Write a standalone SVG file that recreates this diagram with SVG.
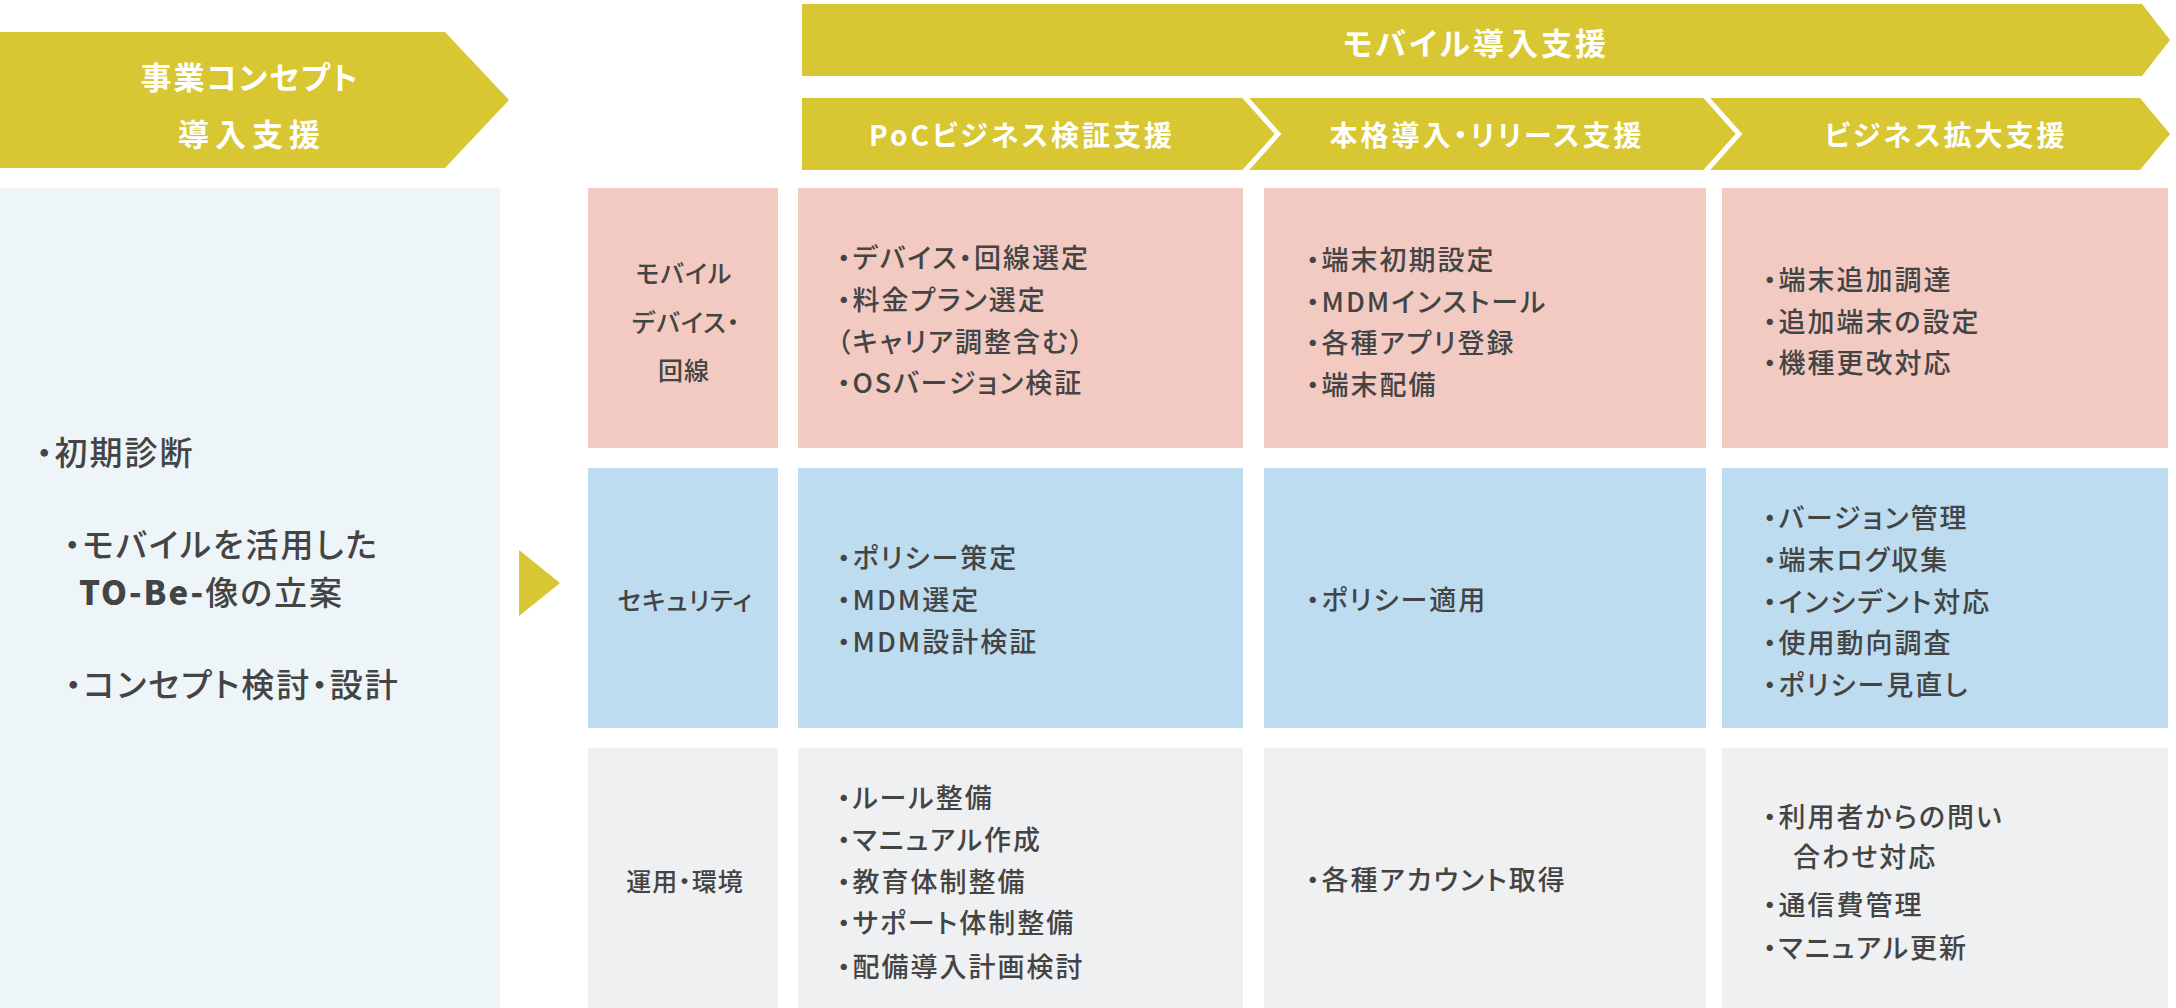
<svg xmlns="http://www.w3.org/2000/svg" width="2176" height="1008" viewBox="0 0 2176 1008">
<style>
text{font-family:"Noto Sans CJK JP","Noto Sans",sans-serif;font-feature-settings:"palt" 1;}
.ban{fill:#D8C732;}
.wt{fill:#ffffff;font-weight:700;}
.t{fill:#444444;font-size:27px;font-weight:500;letter-spacing:2px;}
.lab{fill:#444444;font-size:25px;font-weight:500;text-anchor:middle;letter-spacing:1px;}
.lt{fill:#444444;font-size:33px;font-weight:500;letter-spacing:2px;}
.pink{fill:#F2CAC2;}
.blue{fill:#BEDCEF;}
.gray{fill:#EFF0F2;}
.sep{fill:none;stroke:#ffffff;stroke-width:5;}
</style>
<rect width="2176" height="1008" fill="#ffffff"/>
<g id="concept-banner">
<polygon class="ban" points="0,32 445,32 509,100 445,168 0,168"/>
<text class="wt" x="250" y="89" font-size="31" letter-spacing="2" text-anchor="middle">事業コンセプト</text>
<text class="wt" x="252" y="146" font-size="31" letter-spacing="6" text-anchor="middle">導入支援</text>
</g>
<g id="mobile-banner">
<polygon class="ban" points="802,4 2142,4 2170,40 2142,76 802,76"/>
<text class="wt" x="1476" y="55" font-size="31" letter-spacing="3" text-anchor="middle">モバイル導入支援</text>
</g>
<g id="phase-banner">
<polygon class="ban" points="802,98 2140,98 2170,134 2140,170 802,170"/>
<text class="wt" x="1022" y="146" font-size="28" letter-spacing="3" text-anchor="middle">PoCビジネス検証支援</text>
<text class="wt" x="1487" y="146" font-size="28" letter-spacing="3" text-anchor="middle">本格導入・リリース支援</text>
<text class="wt" x="1946" y="146" font-size="28" letter-spacing="3" text-anchor="middle">ビジネス拡大支援</text>
</g>
<g id="connectors">
<polyline class="sep" points="1244,96 1278,134 1244,172"/>
<polyline class="sep" points="1705,96 1739,134 1705,172"/>
<polygon class="ban" points="519,550 560,583 519,616"/>
</g>
<g id="concept-box">
<rect x="0" y="188" width="500" height="820" fill="#EEF5F8"/>
<text class="lt" x="36" y="465" letter-spacing="4">・初期診断</text>
<text class="lt" x="64" y="557">・モバイルを活用した</text>
<text class="lt" x="79" y="605"><tspan font-weight="900" letter-spacing="2">TO-Be-</tspan>像の立案</text>
<text class="lt" x="65" y="697" letter-spacing="2.5">・コンセプト検討・設計</text>
</g>
<g id="label-device">
<rect class="pink" x="588" y="188" width="190" height="260"/>
<text class="lab" x="684" y="283">モバイル</text>
<text class="lab" x="686" y="332">デバイス・</text>
<text class="lab" x="684" y="380">回線</text>
</g>
<g id="label-security">
<rect class="blue" x="588" y="468" width="190" height="260"/>
<text class="lab" x="685" y="610">セキュリティ</text>
</g>
<g id="label-ops">
<rect class="gray" x="588" y="748" width="190" height="260"/>
<text class="lab" x="685" y="891" font-size="26" letter-spacing="2">運用・環境</text>
</g>
<g id="cell-1-1">
<rect class="pink" x="798" y="188" width="445" height="260"/>
<text class="t" x="837" y="268">・デバイス・回線選定</text>
<text class="t" x="837" y="310">・料金プラン選定</text>
<text class="t" x="837" y="352">（キャリア調整含む）</text>
<text class="t" x="837" y="393">・OSバージョン検証</text>
</g>
<g id="cell-1-2">
<rect class="pink" x="1264" y="188" width="442" height="260"/>
<text class="t" x="1306" y="270">・端末初期設定</text>
<text class="t" x="1306" y="312">・MDMインストール</text>
<text class="t" x="1306" y="353">・各種アプリ登録</text>
<text class="t" x="1306" y="395">・端末配備</text>
</g>
<g id="cell-1-3">
<rect class="pink" x="1722" y="188" width="446" height="260"/>
<text class="t" x="1763" y="290">・端末追加調達</text>
<text class="t" x="1763" y="332">・追加端末の設定</text>
<text class="t" x="1763" y="373">・機種更改対応</text>
</g>
<g id="cell-2-1">
<rect class="blue" x="798" y="468" width="445" height="260"/>
<text class="t" x="837" y="568">・ポリシー策定</text>
<text class="t" x="837" y="610">・MDM選定</text>
<text class="t" x="837" y="652">・MDM設計検証</text>
</g>
<g id="cell-2-2">
<rect class="blue" x="1264" y="468" width="442" height="260"/>
<text class="t" x="1306" y="610">・ポリシー適用</text>
</g>
<g id="cell-2-3">
<rect class="blue" x="1722" y="468" width="446" height="260"/>
<text class="t" x="1763" y="528">・バージョン管理</text>
<text class="t" x="1763" y="570">・端末ログ収集</text>
<text class="t" x="1763" y="612">・インシデント対応</text>
<text class="t" x="1763" y="653">・使用動向調査</text>
<text class="t" x="1763" y="695">・ポリシー見直し</text>
</g>
<g id="cell-3-1">
<rect class="gray" x="798" y="748" width="445" height="260"/>
<text class="t" x="837" y="808">・ルール整備</text>
<text class="t" x="837" y="850">・マニュアル作成</text>
<text class="t" x="837" y="892">・教育体制整備</text>
<text class="t" x="837" y="933">・サポート体制整備</text>
<text class="t" x="837" y="977">・配備導入計画検討</text>
</g>
<g id="cell-3-2">
<rect class="gray" x="1264" y="748" width="442" height="260"/>
<text class="t" x="1306" y="890">・各種アカウント取得</text>
</g>
<g id="cell-3-3">
<rect class="gray" x="1722" y="748" width="446" height="260"/>
<text class="t" x="1763" y="827">・利用者からの問い</text>
<text class="t" x="1793" y="867">合わせ対応</text>
<text class="t" x="1763" y="915">・通信費管理</text>
<text class="t" x="1763" y="958">・マニュアル更新</text>
</g>
</svg>
